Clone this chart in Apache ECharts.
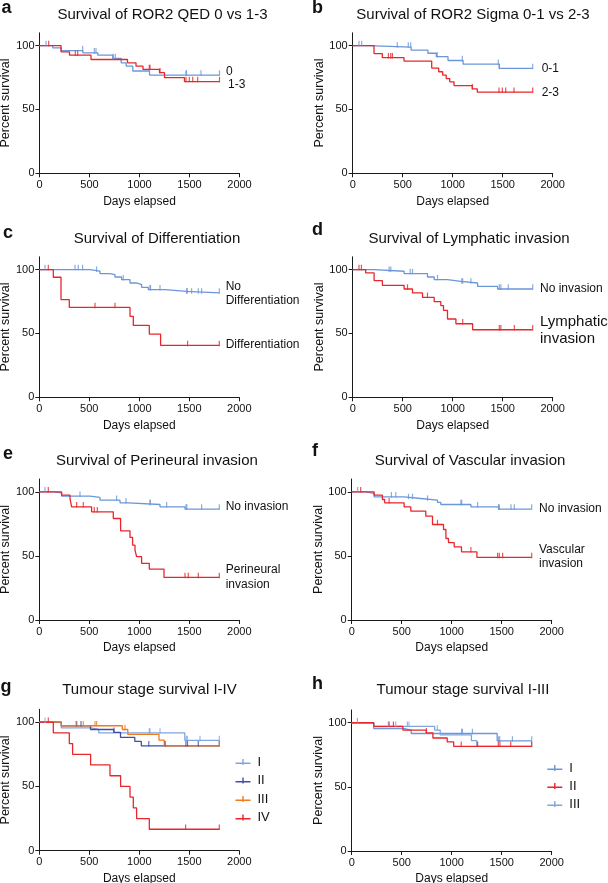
<!DOCTYPE html>
<html><head><meta charset="utf-8">
<script src="https://cdn.jsdelivr.net/npm/echarts@6/dist/echarts.min.js"></script>
<style>html,body{margin:0;padding:0;background:#fff}#c{width:608px;height:883px}</style>
</head><body><div id="c"></div>
<script>
// ---------------- data (days, percent survival, censored days) ----------------
const xTicks = [0, 500, 1000, 1500, 2000];
const yTicks = [0, 50, 100];

// a: ROR2 QED
const aT0 = [0, 133, 217, 433, 583, 733, 817, 867, 933, 1100, 1800];
const aS0 = [100, 98.2, 96.1, 94.3, 92.5, 89.9, 86.5, 83.9, 80.1, 76.9, 76.9];
const aC0 = [65, 432, 548, 565, 738, 758, 1465, 1470, 1615, 1800];
const aT1 = [0, 215, 300, 515, 880, 965, 1035, 1200, 1250, 1450, 1800];
const aS1 = [100, 95.1, 92.5, 89.1, 86.5, 83.9, 81.3, 78.8, 74.9, 71.8, 71.8];
const aC1 = [92, 358, 382, 1098, 1105, 1205, 1465, 1498, 1532, 1582, 1800];

// b: ROR2 Sigma
const bT0 = [0, 150, 584, 752, 836, 953, 1104, 1466, 1800];
const bS0 = [100, 98.8, 96.5, 94.0, 91.3, 88.3, 85.4, 82.1, 82.1];
const bC0 = [63, 90, 446, 556, 580, 846, 1096, 1456, 1466, 1800];
const bT1 = [0, 213, 296, 513, 790, 860, 900, 935, 970, 1013, 1196, 1246, 1800];
const bS1 = [100, 93.7, 90.5, 87.9, 82.4, 79.5, 76.8, 74.2, 71.6, 68.7, 66.1, 63.5, 63.5];
const bC1 = [357, 380, 397, 1196, 1463, 1496, 1530, 1613, 1800];

// c: Differentiation
const cT0 = [0, 507, 607, 707, 757, 823, 907, 973, 1023, 1090, 1257, 1473, 1800];
const cS0 = [100, 98.7, 96.9, 96.1, 94.2, 92.1, 89.5, 88.2, 86.1, 84.3, 83.0, 81.7, 81.7];
const cC0 = [57, 357, 390, 433, 573, 840, 1107, 1112, 1207, 1473, 1480, 1523, 1590, 1623, 1800];
const cT1 = [0, 140, 217, 300, 907, 940, 1100, 1213, 1800];
const cS1 = [100, 94.0, 76.4, 70.4, 63.4, 56.3, 49.5, 40.6, 40.6];
const cC1 = [90, 557, 757, 1483, 1800];

// d: Lymphatic invasion
const dT0 = [0, 214, 514, 748, 815, 948, 1082, 1249, 1449, 1800];
const dS0 = [100, 98.7, 96.9, 94.2, 92.1, 90.8, 89.5, 86.9, 84.8, 84.8];
const dC0 = [364, 381, 575, 598, 848, 1090, 1100, 1182, 1466, 1482, 1556, 1800];
const dT1 = [0, 130, 214, 297, 514, 598, 698, 815, 881, 908, 948, 1032, 1199, 1800];
const dS1 = [100, 97.4, 91.4, 87.7, 84.8, 81.7, 78.3, 74.9, 71.7, 68.1, 61.3, 57.6, 52.9, 52.9];
const dC1 = [63, 87, 548, 748, 1100, 1466, 1482, 1616, 1800];

// e: Perineural invasion
const eT0 = [0, 140, 223, 507, 607, 807, 890, 1207, 1457, 1800];
const eS0 = [100, 99.2, 96.6, 95.6, 93.5, 91.4, 90.1, 88.3, 86.5, 86.5];
const eC0 = [57, 407, 773, 867, 1107, 1110, 1273, 1467, 1475, 1623, 1800];
const eT1 = [0, 223, 307, 323, 523, 740, 813, 907, 933, 957, 973, 1023, 1100, 1247, 1800];
const eS1 = [100, 97.4, 94.8, 88.3, 84.4, 79.2, 69.6, 64.4, 58.4, 54.5, 49.4, 44.2, 39.7, 33.2, 33.2];
const eC1 = [90, 373, 440, 550, 580, 1457, 1490, 1590, 1800];

// f: Vascular invasion
const fT0 = [0, 140, 224, 524, 691, 858, 891, 1192, 1469, 1800];
const fS0 = [100, 98.7, 96.1, 94.8, 93.5, 91.7, 90.1, 88.3, 86.5, 86.5];
const fC0 = [60, 397, 441, 568, 608, 758, 1092, 1100, 1259, 1469, 1476, 1593, 1626, 1800];
const fT1 = [0, 224, 307, 330, 524, 591, 741, 808, 918, 942, 968, 1025, 1098, 1252, 1800];
const fS1 = [100, 97.4, 94.0, 91.4, 88.3, 84.9, 81.0, 74.5, 70.6, 63.6, 60.3, 57.1, 53.2, 48.8, 48.8];
const fC1 = [90, 374, 858, 1192, 1459, 1476, 1509, 1800];

// g / h: tumour stage
const sIT = [0, 220, 517, 595, 1455, 1800];
const sIS = [100, 95.5, 94.3, 91.6, 85.8, 85.8];
const sIC = [57, 1100, 1107, 1207, 1470, 1480, 1607, 1800];
const sIIT = [0, 220, 512, 745, 812, 955, 1020, 1800];
const sIIS = [100, 97.2, 94.3, 92.1, 88.1, 85.0, 81.6, 81.6];
const sIIC = [374, 417, 747, 1095, 1259, 1466, 1482, 1590, 1800];
const sIIIT = [0, 220, 830, 885, 1197, 1250, 1800];
const sIIIS = [100, 97.2, 94.3, 90.5, 86.0, 81.5, 81.5];
const sIIIC = [367, 440, 557, 573, 857, 1800];
const sIVT = [0, 140, 300, 333, 513, 707, 813, 907, 940, 973, 1100, 1800];
const sIVS = [100, 91.7, 83.3, 75.0, 66.7, 58.3, 50.0, 41.7, 33.3, 25.0, 16.7, 16.7];
const sIVC = [90, 1463, 1800];

const stageNames = ['I', 'II', 'III', 'IV'];

// ---------------- styling / layout ----------------
const FONT = '"Liberation Sans", Arial, Helvetica, sans-serif';
const BLUE = '#6b97da', RED = '#e8262b', LBLUE = '#7fa6e2', NAVY = '#3f4fa6', ORANGE = '#f17a1f';
const INK = '#111';

const panels = [
  {left: 39.5, top: 32.8, h: 140.5, curves: [
    {T: aT0, S: aS0, C: aC0, color: BLUE, name: 'a0'}, {T: aT1, S: aS1, C: aC1, color: RED, name: 'a1'}]},
  {left: 352.7, top: 32.8, h: 140.5, curves: [
    {T: bT0, S: bS0, C: bC0, color: BLUE, name: 'b0'}, {T: bT1, S: bS1, C: bC1, color: RED, name: 'b1'}]},
  {left: 39.3, top: 256.8, h: 140.5, curves: [
    {T: cT0, S: cS0, C: cC0, color: BLUE, name: 'c0'}, {T: cT1, S: cS1, C: cC1, color: RED, name: 'c1'}]},
  {left: 352.7, top: 256.8, h: 140.5, curves: [
    {T: dT0, S: dS0, C: dC0, color: BLUE, name: 'd0'}, {T: dT1, S: dS1, C: dC1, color: RED, name: 'd1'}]},
  {left: 39.3, top: 479, h: 141, curves: [
    {T: eT0, S: eS0, C: eC0, color: BLUE, name: 'e0'}, {T: eT1, S: eS1, C: eC1, color: RED, name: 'e1'}]},
  {left: 351.7, top: 479, h: 141, curves: [
    {T: fT0, S: fS0, C: fC0, color: BLUE, name: 'f0'}, {T: fT1, S: fS1, C: fC1, color: RED, name: 'f1'}]},
  {left: 39.3, top: 709.3, h: 141.4, curves: [
    {T: sIT, S: sIS, C: sIC, color: LBLUE, name: stageNames[0]},
    {T: sIIT, S: sIIS, C: sIIC, color: NAVY, name: stageNames[1]},
    {T: sIIIT, S: sIIIS, C: sIIIC, color: ORANGE, name: stageNames[2]},
    {T: sIVT, S: sIVS, C: sIVC, color: RED, name: stageNames[3]}]},
  {left: 351.7, top: 709.9, h: 141.1, curves: [
    {T: sIT, S: sIS, C: sIC, color: BLUE, name: 'h-' + stageNames[0]},
    {T: sIIIT, S: sIIIS, C: sIIIC, color: LBLUE, name: 'h-' + stageNames[2]},
    {T: sIIT, S: sIIS, C: sIIC, color: RED, name: 'h-' + stageNames[1]}]}
];

function kmAt(T, S, t) { let v = S[0]; for (let i = 0; i < T.length; i++) if (T[i] <= t) v = S[i]; return v; }

const grid = [], xAxis = [], yAxis = [], series = [];
panels.forEach((p, i) => {
  grid.push({left: p.left, top: p.top, width: 200, height: p.h, containLabel: false, outerBoundsMode: 'none'});
  const axLine = {show: true, onZero: false, lineStyle: {color: '#1a1a1a', width: 1}};
  xAxis.push({type: 'value', gridIndex: i, min: xTicks[0], max: xTicks[xTicks.length - 1], interval: 500,
    axisLine: axLine, axisTick: {show: true, length: 4, lineStyle: {color: '#1a1a1a'}},
    axisLabel: {fontSize: 11, color: INK, margin: 6, fontFamily: FONT, formatter: v => String(v)},
    splitLine: {show: false}, name: 'Days elapsed', nameLocation: 'middle', nameGap: 22, nameMoveOverlap: false,
    nameTextStyle: {fontSize: 12, color: INK, fontFamily: FONT}});
  yAxis.push({type: 'value', gridIndex: i, min: 0, max: 110, interval: 50,
    axisLine: axLine, axisTick: {show: true, length: 4, customValues: yTicks, lineStyle: {color: '#1a1a1a'}},
    axisLabel: {fontSize: 11, color: INK, margin: 5, fontFamily: FONT, customValues: yTicks,
      formatter: v => (v > 100 ? '' : String(v))},
    splitLine: {show: false}, name: 'Percent survival', nameLocation: 'middle', nameGap: 27, nameMoveOverlap: false,
    nameTextStyle: {fontSize: 12.5, color: INK, fontFamily: FONT}});
  p.curves.forEach(c => {
    series.push({type: 'line', name: c.name, xAxisIndex: i, yAxisIndex: i, step: 'end', showSymbol: false,
      symbol: 'none', animation: false, silent: true, color: c.color, itemStyle: {color: c.color},
      lineStyle: {color: c.color, width: 1.3}, data: c.T.map((t, k) => [t, c.S[k]])});
    series.push({type: 'scatter', name: c.name + '-cens', xAxisIndex: i, yAxisIndex: i, animation: false, silent: true,
      symbol: 'path://M0,0h2v10h-2z', symbolSize: [1.2, 5.5], symbolOffset: [0, -2],
      itemStyle: {color: c.color}, data: c.C.map(t => [t, kmAt(c.T, c.S, t)]), z: 3});
  });
});

function txt(x, y, text, size, opts) {
  return Object.assign({type: 'text', x: x, y: y, silent: true,
    style: Object.assign({text: text, fontSize: size, fontFamily: FONT, fill: INK, align: 'left', verticalAlign: 'middle'}, opts || {})});
}
const graphic = [
  txt(1.5, 8, 'a', 18, {fontWeight: 'bold'}), txt(312, 7.7, 'b', 18, {fontWeight: 'bold'}),
  txt(3, 232.7, 'c', 18, {fontWeight: 'bold'}), txt(312, 230.4, 'd', 18, {fontWeight: 'bold'}),
  txt(3, 454.4, 'e', 18, {fontWeight: 'bold'}), txt(312, 451, 'f', 18, {fontWeight: 'bold'}),
  txt(0.5, 687.4, 'g', 18, {fontWeight: 'bold'}), txt(312, 684.4, 'h', 18, {fontWeight: 'bold'}),
  txt(162.5, 15, 'Survival of ROR2 QED 0 vs 1-3', 15, {align: 'center'}),
  txt(473, 14.5, 'Survival of ROR2 Sigma 0-1 vs 2-3', 15, {align: 'center'}),
  txt(157, 239, 'Survival of Differentiation', 15, {align: 'center'}),
  txt(469, 239, 'Survival of Lymphatic invasion', 15, {align: 'center'}),
  txt(157, 461, 'Survival of Perineural invasion', 15, {align: 'center'}),
  txt(470, 461, 'Survival of Vascular invasion', 15, {align: 'center'}),
  txt(149.5, 690, 'Tumour stage survival I-IV', 15, {align: 'center'}),
  txt(463, 690, 'Tumour stage survival I-III', 15, {align: 'center'}),
  txt(226, 72, '0', 12), txt(228, 85, '1-3', 12),
  txt(541.7, 69, '0-1', 12), txt(541.7, 92.7, '2-3', 12),
  txt(225.7, 286.7, 'No', 12), txt(225.7, 301, 'Differentiation', 12), txt(225.7, 345, 'Differentiation', 12),
  txt(540, 288.3, 'No invasion', 12), txt(540, 321.7, 'Lymphatic', 15), txt(540, 339, 'invasion', 15),
  txt(225.7, 506.7, 'No invasion', 12), txt(225.7, 569.3, 'Perineural', 12), txt(225.7, 585, 'invasion', 12),
  txt(539, 508.3, 'No invasion', 12), txt(539, 549.3, 'Vascular', 12), txt(539, 564, 'invasion', 12)
];

const legIcon = 'path://M0,3.5h15v1.5h-15z M6.8,0h1.4v6h-1.4z';
const legend = [
  {data: stageNames.slice(), orient: 'vertical', left: 235.5, top: 755.5, itemWidth: 15, itemHeight: 9, itemGap: 5.5,
    icon: legIcon, selectedMode: false, padding: 0, textStyle: {fontSize: 13, color: INK, fontFamily: FONT, padding: [0, 0, 0, 2]}},
  {data: stageNames.slice(0, 3).map(n => 'h-' + n), orient: 'vertical', left: 547.3, top: 761.5, itemWidth: 15, itemHeight: 9,
    itemGap: 5, icon: legIcon, selectedMode: false, padding: 0, formatter: n => n.replace('h-', ''),
    textStyle: {fontSize: 13, color: INK, fontFamily: FONT, padding: [0, 0, 0, 2]}}
];

const chart = echarts.init(document.getElementById('c'), null, {renderer: 'canvas'});
chart.setOption({backgroundColor: '#fff', animation: false, textStyle: {fontFamily: FONT},
  grid, xAxis, yAxis, series, graphic, legend, tooltip: {show: false}});
</script></body></html>
